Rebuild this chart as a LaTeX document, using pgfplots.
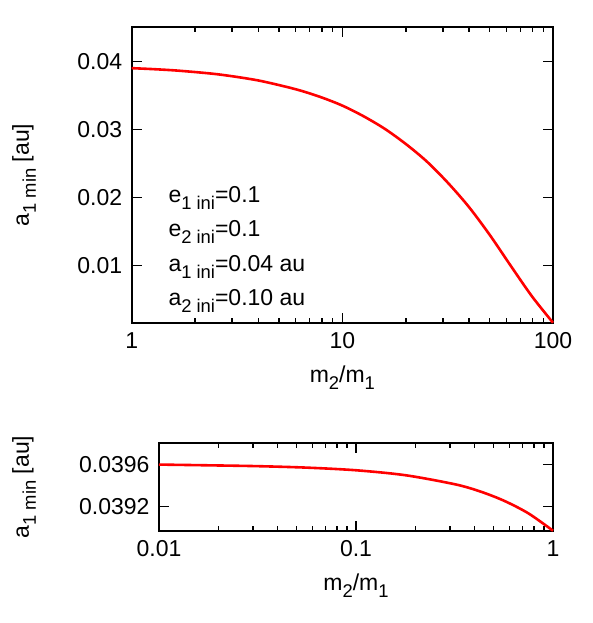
\documentclass[border=0pt]{standalone}
\usepackage{fontspec}
\setmainfont{Liberation Sans}
\usepackage{pgfplots}
\pgfplotsset{compat=1.18}

% gnuplot-like lowered subscript
\newcommand\sub[1]{\raisebox{-0.3em}{\fontsize{18.4pt}{18.4pt}\selectfont #1}}

\pgfplotsset{
  gp/.style={
    scale only axis,
    axis line style={line width=1.8pt},
    every tick/.style={line width=1.5pt, black},
    major tick length=10pt,
    minor tick length=5pt,
    tick align=inside,
    /pgf/number format/assume math mode=true,
    scaled y ticks=false,
    tick label style={font=\fontsize{23pt}{27pt}\selectfont},
    label style={font=\fontsize{23pt}{27pt}\selectfont},
    yticklabel style={xshift=-6pt},
    xticklabel style={yshift=-6.5pt},
    xlabel={m\sub{2}/m\sub{1}},
    ylabel={a\sub{1 min} [au]},
    xlabel style={at={(rel axis cs:0.5,0)}, anchor=center, yshift=-55.3pt},
    clip=false,
  },
}

\begin{document}
\begin{tikzpicture}
\useasboundingbox (0,0) rectangle (593pt,-623pt);

\begin{axis}[gp, xmode=log,
  at={(131.7pt,-322.7pt)}, anchor=south west,
  width=421.3pt, height=295.4pt,
  xmin=1, xmax=100,
  ymin=0.00162, ymax=0.045,
  xtick={1,10,100}, xticklabels={1,10,100},
  ytick={0.01,0.02,0.03,0.04},
  yticklabel style={/pgf/number format/fixed, /pgf/number format/precision=2},
  ylabel style={at={(axis description cs:-0.2841,0.5)}, anchor=north, inner sep=0pt},
]
\addplot[red, line width=2.6pt, smooth] coordinates {
  (1,0.03900) (1.259,0.03886) (1.585,0.03868) (1.995,0.03843) (2.512,0.03813)
  (3.162,0.03771) (3.981,0.03720) (5.012,0.03651) (6.310,0.03572) (7.943,0.03472)
  (10,0.03350) (12.59,0.03195) (15.85,0.03012) (19.95,0.02790) (25.12,0.02532)
  (31.62,0.02220) (39.81,0.01865) (50.12,0.01450) (63.10,0.00995) (79.43,0.00550)
  (100,0.00162)
};
\node[anchor=base west, inner sep=0pt, font=\fontsize{23pt}{27pt}\selectfont] at (rel axis cs:0.0869,0.4063) {e\sub{1 ini}=0.1};
\node[anchor=base west, inner sep=0pt, font=\fontsize{23pt}{27pt}\selectfont] at (rel axis cs:0.0869,0.2911) {e\sub{2 ini}=0.1};
\node[anchor=base west, inner sep=0pt, font=\fontsize{23pt}{27pt}\selectfont] at (rel axis cs:0.0869,0.1740) {a\sub{1 ini}=0.04 au};
\node[anchor=base west, inner sep=0pt, font=\fontsize{23pt}{27pt}\selectfont] at (rel axis cs:0.0869,0.0575) {a\sub{2 ini}=0.10 au};
\end{axis}

\begin{axis}[gp, xmode=log,
  at={(159pt,-530.7pt)}, anchor=south west,
  width=394pt, height=87.4pt,
  xmin=0.01, xmax=1,
  ymin=0.03897, ymax=0.0398,
  xtick={0.01,0.1,1}, xticklabels={0.01,0.1,1},
  ytick={0.0392,0.0396},
  yticklabel style={/pgf/number format/fixed, /pgf/number format/precision=4},
  ylabel style={at={(axis description cs:-0.3731,0.5)}, anchor=north, inner sep=0pt},
]
\addplot[red, line width=2.6pt, smooth] coordinates {
  (0.01,0.039598) (0.0178,0.039591) (0.0316,0.039583) (0.0562,0.039569)
  (0.1,0.039544) (0.178,0.039497) (0.316,0.039412) (0.422,0.039346)
  (0.562,0.039256) (0.75,0.039135) (1,0.03897)
};
\end{axis}
\end{tikzpicture}
\end{document}
